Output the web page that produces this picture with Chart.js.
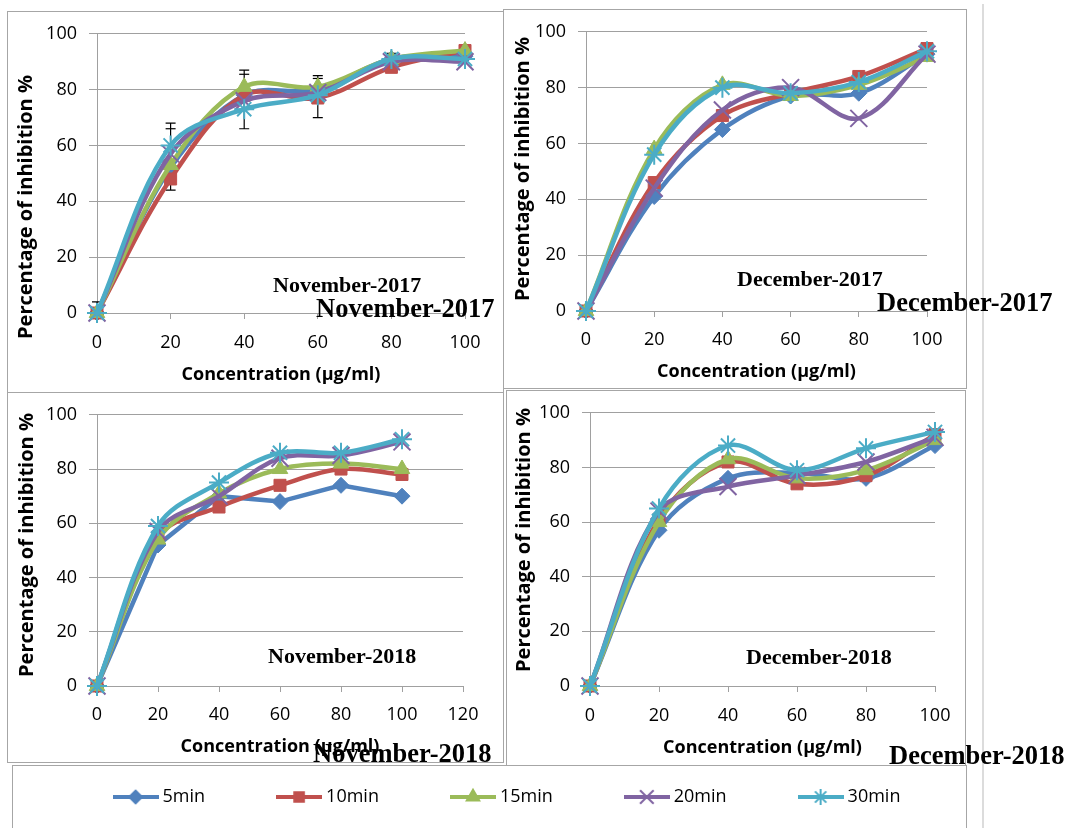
<!DOCTYPE html>
<html>
<head>
<meta charset="utf-8">
<script src="https://cdn.jsdelivr.net/npm/chart.js@4.4.1/dist/chart.umd.min.js"></script>
<style>
  html, body { margin:0; padding:0; background:#fff; }
  body { width:1068px; height:828px; position:relative; overflow:hidden; }
  .box { position:absolute; border:1px solid #a6a6a6; box-sizing:border-box; }
  canvas { position:absolute; pointer-events:none; }
  .ann { position:absolute; font-family:"Liberation Serif","Times New Roman",serif; font-weight:bold; color:#000; white-space:nowrap; line-height:1; z-index:5; }
</style>
</head>
<body>
<div class="box" style="left:7px;top:11px;width:497px;height:382px;"></div>
<div class="box" style="left:503px;top:9px;width:464px;height:380px;"></div>
<div class="box" style="left:7px;top:392px;width:497px;height:371px;"></div>
<div class="box" style="left:506px;top:390px;width:460px;height:376px;"></div>
<div class="box" style="left:12px;top:765px;width:955px;height:120px;"></div>
<div style="position:absolute;left:982px;top:4px;width:2px;height:830px;background:#dcdcdc;"></div>

<canvas id="nov2017" width="496" height="381" style="left:7px;top:11px;"></canvas>
<canvas id="dec2017" width="463" height="379" style="left:503px;top:9px;"></canvas>
<canvas id="nov2018" width="496" height="370" style="left:7px;top:392px;"></canvas>
<canvas id="dec2018" width="459" height="375" style="left:506px;top:390px;"></canvas>
<canvas id="legend" width="1068" height="200" style="left:0px;top:712px;"></canvas>

<div class="ann" style="left:273px;top:274px;font-size:22px;">November-2017</div>
<div class="ann" style="left:316px;top:295px;font-size:26.5px;">November-2017</div>
<div class="ann" style="left:737px;top:268px;font-size:22px;">December-2017</div>
<div class="ann" style="left:877px;top:289px;font-size:26.5px;">December-2017</div>
<div class="ann" style="left:268px;top:645px;font-size:22px;">November-2018</div>
<div class="ann" style="left:313px;top:740px;font-size:26.5px;">November-2018</div>
<div class="ann" style="left:746px;top:646px;font-size:22px;">December-2018</div>
<div class="ann" style="left:889px;top:742px;font-size:26.5px;">December-2018</div>

<script>
// ---------------- DATA ----------------
const concentrations = [0, 20, 40, 60, 80, 100];
const seriesNames = ['5min', '10min', '15min', '20min', '30min'];
const xAxisTitle = 'Concentration (µg/ml)';
const yAxisTitle = 'Percentage of inhibition %';

// November-2017
const nov2017_5min  = [0, 52, 78, 80, 91, 92];
const nov2017_10min = [0, 48, 78, 77, 88, 94];
const nov2017_15min = [0, 53, 81, 81, 91, 94];
const nov2017_20min = [0, 57, 76, 79, 90, 90];
const nov2017_30min = [0, 60, 73, 78, 91, 91];
// error bars (November-2017)
const nov2017_errLow  = [0, 44, 66, 70, 90, null];
const nov2017_errHigh = [4, 68, 87, 85, 93, null];
const nov2017_errHigh2 = [null, 66, 85.5, 84, null, null];

// December-2017
const dec2017_5min  = [0, 41, 65, 77, 78, 92];
const dec2017_10min = [0, 46, 70, 78, 84, 94];
const dec2017_15min = [0, 58, 81, 77, 81, 91];
const dec2017_20min = [0, 44, 72, 80, 69, 92];
const dec2017_30min = [0, 56, 80, 78, 82, 93];

// November-2018
const nov2018_5min  = [0, 52, 70, 68, 74, 70];
const nov2018_10min = [0, 55, 66, 74, 80, 78];
const nov2018_15min = [0, 54, 71, 80, 82, 80];
const nov2018_20min = [0, 57, 70, 84, 85, 90];
const nov2018_30min = [0, 59, 75, 86, 86, 91];

// December-2018
const dec2018_5min  = [0, 57, 76, 78, 76, 88];
const dec2018_10min = [0, 61, 82, 74, 77, 92];
const dec2018_15min = [0, 60, 83, 76, 79, 90];
const dec2018_20min = [0, 64, 73, 77, 82, 91];
const dec2018_30min = [0, 65, 88, 79, 87, 93];

// ---------------- STYLE ----------------
const COLORS = ['#4F81BD', '#C0504D', '#9BBB59', '#8064A2', '#4BACC6'];
const STYLES = ['rectRot', 'rect', 'triangle', 'crossRot', 'star'];
const RADII  = [8, 8.5, 9, 12, 10];
const GRID = '#a0a0a0';
const TICK_FONT = { family: 'Open Sans', size: 18 };
const XTITLE_FONT = { family: 'Open Sans', size: 18, weight: 'bold' };
const YTITLE_FONT = 'bold 20px "Open Sans"';

function makeDatasets(list, straight) {
  return list.map((vals, i) => ({
    label: seriesNames[i],
    data: concentrations.map((x, j) => ({ x: x, y: vals[j] })),
    borderColor: COLORS[i],
    backgroundColor: COLORS[i],
    borderWidth: 4.5,
    tension: (straight && straight[i]) ? 0 : 0.35,
    pointStyle: STYLES[i],
    pointRadius: RADII[i],
    pointBorderWidth: i >= 3 ? 2 : 1,
    pointBackgroundColor: COLORS[i],
    pointBorderColor: COLORS[i],
    order: 4 - i,
    clip: 30
  }));
}

function yTitlePlugin(cx, cy) {
  return {
    id: 'yTitle',
    afterDraw(chart) {
      const ctx = chart.ctx;
      ctx.save();
      ctx.translate(cx, cy);
      ctx.rotate(-Math.PI / 2);
      ctx.font = YTITLE_FONT;
      ctx.fillStyle = '#000';
      ctx.textAlign = 'center';
      ctx.textBaseline = 'middle';
      ctx.fillText(yAxisTitle, 0, 0);
      ctx.restore();
    }
  };
}

function errorBarPlugin(low, high, high2) {
  return {
    id: 'errorBars',
    beforeDatasetsDraw(chart) {
      const xs = chart.scales.x, ys = chart.scales.y, ctx = chart.ctx;
      ctx.save();
      ctx.strokeStyle = '#000';
      ctx.lineWidth = 1.2;
      const cap = 5;
      concentrations.forEach((c, i) => {
        const px = xs.getPixelForValue(c);
        if (low[i] != null && high[i] != null) {
          const y1 = ys.getPixelForValue(low[i]);
          const y2 = ys.getPixelForValue(high[i]);
          ctx.beginPath();
          ctx.moveTo(px, y1); ctx.lineTo(px, y2);
          ctx.moveTo(px - cap, y1); ctx.lineTo(px + cap, y1);
          ctx.moveTo(px - cap, y2); ctx.lineTo(px + cap, y2);
          ctx.stroke();
        }
        if (high2 && high2[i] != null) {
          const y3 = ys.getPixelForValue(high2[i]);
          ctx.beginPath();
          ctx.moveTo(px - cap, y3); ctx.lineTo(px + cap, y3);
          ctx.stroke();
        }
      });
      ctx.restore();
    }
  };
}

function panel(id, list, p, extraPlugins, straight) {
  new Chart(document.getElementById(id), {
    type: 'line',
    data: { datasets: makeDatasets(list, straight) },
    options: {
      responsive: false,
      animation: false,
      events: [],
      layout: { padding: { left: 0, top: p.padT, right: p.padR, bottom: 0 } },
      plugins: { legend: { display: false }, tooltip: { enabled: false } },
      scales: {
        x: {
          type: 'linear', min: 0, max: p.xMax,
          ticks: { stepSize: 20, font: TICK_FONT, color: '#000', padding: p.xTickPad, maxRotation: 0, autoSkip: false },
          grid: { display: true, drawOnChartArea: false, drawTicks: true, tickLength: 6, color: GRID },
          border: { display: true, color: GRID, width: 1 },
          title: { display: true, text: xAxisTitle, font: XTITLE_FONT, color: '#000', padding: { top: 0, bottom: p.xTitlePad } },
          afterFit: (s) => { s.height = p.xH; }
        },
        y: {
          min: 0, max: 100,
          ticks: { stepSize: 20, font: TICK_FONT, color: '#000', padding: 12 },
          grid: { color: GRID, lineWidth: 1, drawTicks: true, tickLength: 8 },
          border: { display: true, color: GRID, width: 1 },
          afterFit: (s) => { s.width = p.yW; }
        }
      }
    },
    plugins: extraPlugins
  });
}

panel('nov2017',
  [nov2017_5min, nov2017_10min, nov2017_15min, nov2017_20min, nov2017_30min],
  { padT: 17, padR: 38, yW: 90, xH: 79, xMax: 100, xTitlePad: 6, xTickPad: 13 },
  [errorBarPlugin(nov2017_errLow, nov2017_errHigh, nov2017_errHigh2), yTitlePlugin(19, 196)]);

panel('dec2017',
  [dec2017_5min, dec2017_10min, dec2017_15min, dec2017_20min, dec2017_30min],
  { padT: 19, padR: 39, yW: 83, xH: 77, xMax: 100, xTitlePad: 5, xTickPad: 12 },
  [yTitlePlugin(20, 160)]);

panel('nov2018',
  [nov2018_5min, nov2018_10min, nov2018_15min, nov2018_20min, nov2018_30min],
  { padT: 13, padR: 40, yW: 90, xH: 76, xMax: 120, xTitlePad: 4, xTickPad: 12 },
  [yTitlePlugin(20, 153)], [true, false, false, false, false]);

panel('dec2018',
  [dec2018_5min, dec2018_10min, dec2018_15min, dec2018_20min, dec2018_30min],
  { padT: 16, padR: 30, yW: 84, xH: 79, xMax: 100, xTitlePad: 6, xTickPad: 13 },
  [yTitlePlugin(18, 150)]);

// ---------------- LEGEND ----------------
function legendImage(i) {
  const c = document.createElement('canvas');
  c.width = 46; c.height = 20;
  const g = c.getContext('2d');
  g.strokeStyle = COLORS[i];
  g.fillStyle = COLORS[i];
  g.lineWidth = 4;
  g.beginPath(); g.moveTo(0, 10); g.lineTo(46, 10); g.stroke();
  g.lineWidth = 2;
  if (Chart.helpers && Chart.helpers.drawPoint) {
    Chart.helpers.drawPoint(g, { pointStyle: STYLES[i], rotation: 0, radius: RADII[i] * 0.8, borderWidth: 2 }, 23, 10);
  }
  return c;
}
const legendImages = seriesNames.map((n, i) => legendImage(i));

new Chart(document.getElementById('legend'), {
  type: 'line',
  data: { datasets: seriesNames.map((n, i) => ({ label: n, data: [], borderColor: COLORS[i], backgroundColor: COLORS[i] })) },
  options: {
    responsive: false,
    animation: false,
    events: [],
    layout: { padding: { left: 0, right: 50, top: 0, bottom: 0 } },
    scales: { x: { display: false }, y: { display: false } },
    plugins: {
      tooltip: { enabled: false },
      legend: {
        display: true, position: 'top', align: 'center',
        labels: {
          usePointStyle: true, pointStyleWidth: 36, boxHeight: 18, padding: 76,
          font: { family: 'Open Sans', size: 18 }, color: '#000',
          generateLabels: (chart) => chart.data.datasets.map((ds, i) => ({
            text: ds.label, pointStyle: legendImages[i], fillStyle: ds.backgroundColor,
            strokeStyle: ds.borderColor, lineWidth: 0, hidden: false, datasetIndex: i
          }))
        }
      }
    }
  }
});
</script>
</body>
</html>
